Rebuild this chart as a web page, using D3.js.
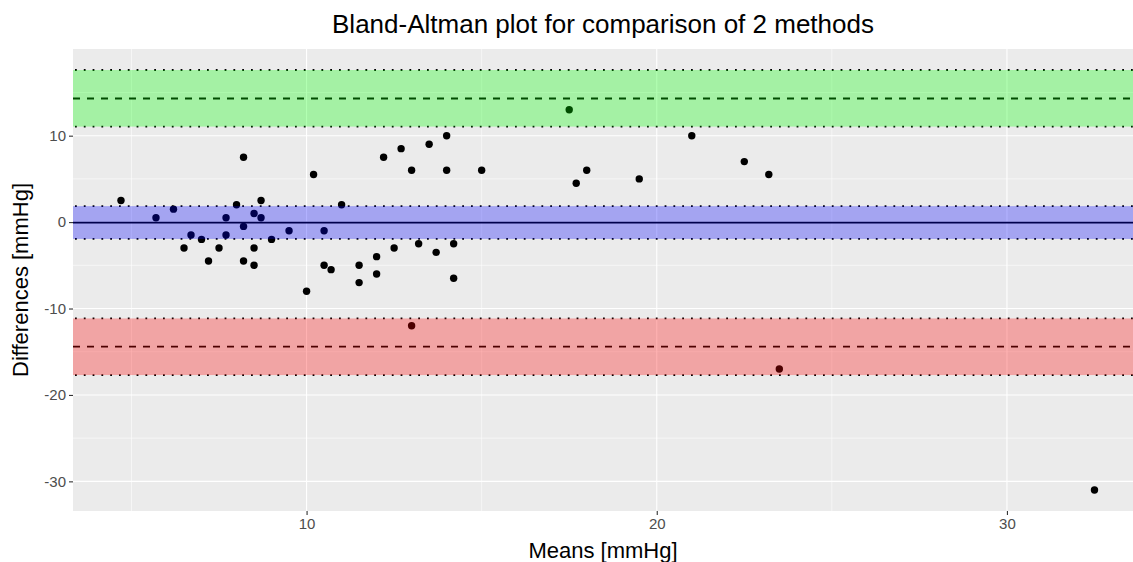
<!DOCTYPE html>
<html>
<head>
<meta charset="utf-8">
<script src="https://cdn.jsdelivr.net/npm/d3@7"></script>
<style>
  body { margin: 0; background: #fff; }
  svg { display: block; font-family: "Liberation Sans", Arial, sans-serif; }
</style>
</head>
<body>
<svg id="chart" width="1133" height="562"></svg>
<script>
// means and differences of the 2 methods [mmHg]
var means = [4.7, 5.7, 6.2, 6.5, 6.7, 7.0, 7.2, 7.5, 7.7, 7.7, 8.0, 8.2, 8.2, 8.2, 8.5, 8.5, 8.5, 8.7, 8.7,
             9.0, 9.5, 10.0, 10.2, 10.5, 10.5, 10.7, 11.0, 11.5, 11.5, 12.0, 12.0, 12.2, 12.5, 12.7, 13.0,
             13.0, 13.2, 13.5, 13.7, 14.0, 14.0, 14.2, 14.2, 15.0, 17.5, 17.7, 18.0, 19.5, 21.0, 22.5,
             23.2, 23.5, 32.5];
var diffs = [2.5, 0.5, 1.5, -3.0, -1.5, -2.0, -4.5, -3.0, 0.5, -1.5, 2.0, 7.5, -0.5, -4.5, 1.0, -3.0, -5.0, 2.5, 0.5,
             -2.0, -1.0, -8.0, 5.5, -1.0, -5.0, -5.5, 2.0, -5.0, -7.0, -4.0, -6.0, 7.5, -3.0, 8.5, 6.0,
             -12.0, -2.5, 9.0, -3.5, 10.0, 6.0, -2.5, -6.5, 6.0, 13.0, 4.5, 6.0, 5.0, 10.0, 7.0,
             5.5, -17.0, -31.0];

// bias, limits of agreement and their confidence intervals
var lineNames = ["upper", "bias", "lower"];
var lineValues = [14.3, -0.05, -14.4];
var ciLow = [11.05, -1.95, -17.7];
var ciHigh = [17.6, 1.85, -11.15];
var bandColors = ["#00ff00", "#0000ff", "#ff0000"];

var xTicks = [10, 20, 30];
var yTicks = [10, 0, -10, -20, -30];
var xMinor = [5, 15, 25];
var yMinor = [15, 5, -5, -15, -25];

var svg = d3.select("#chart");
var margin = {left: 73, right: 0, top: 49, bottom: 51};
var width = +svg.attr("width"), height = +svg.attr("height");

var x = d3.scaleLinear().domain([3.33, 33.6]).range([margin.left, width - margin.right]);
var y = d3.scaleLinear().domain([-33.43, 20.03]).range([height - margin.bottom, margin.top]);

// panel
svg.append("rect")
    .attr("x", x.range()[0]).attr("y", y.range()[1])
    .attr("width", x.range()[1] - x.range()[0])
    .attr("height", y.range()[0] - y.range()[1])
    .attr("fill", "#ebebeb");

var grid = svg.append("g");
grid.selectAll(".xminor").data(xMinor).enter().append("line")
    .attr("x1", d => x(d)).attr("x2", d => x(d))
    .attr("y1", y.range()[0]).attr("y2", y.range()[1])
    .attr("stroke", "#fff").attr("stroke-width", 0.55);
grid.selectAll(".yminor").data(yMinor).enter().append("line")
    .attr("y1", d => y(d)).attr("y2", d => y(d))
    .attr("x1", x.range()[0]).attr("x2", x.range()[1])
    .attr("stroke", "#fff").attr("stroke-width", 0.55);
grid.selectAll(".xmajor").data(xTicks).enter().append("line")
    .attr("x1", d => x(d)).attr("x2", d => x(d))
    .attr("y1", y.range()[0]).attr("y2", y.range()[1])
    .attr("stroke", "#fff").attr("stroke-width", 1.1);
grid.selectAll(".ymajor").data(yTicks).enter().append("line")
    .attr("y1", d => y(d)).attr("y2", d => y(d))
    .attr("x1", x.range()[0]).attr("x2", x.range()[1])
    .attr("stroke", "#fff").attr("stroke-width", 1.1);

// points
svg.append("g").selectAll("circle")
    .data(means.map(function (m, i) { return {m: m, d: diffs[i]}; }))
    .enter().append("circle")
    .attr("cx", d => x(d.m))
    .attr("cy", d => y(d.d))
    .attr("r", 3.7)
    .attr("fill", "#000");

// reference lines
var lines = svg.append("g");
lineNames.forEach(function (name, i) {
    lines.append("line")
        .attr("x1", x.range()[0]).attr("x2", x.range()[1])
        .attr("y1", y(lineValues[i])).attr("y2", y(lineValues[i]))
        .attr("stroke", "#000").attr("stroke-width", 1.8)
        .attr("stroke-dasharray", name == "bias" ? null : "7,7");
    [ciLow[i], ciHigh[i]].forEach(function (v) {
        lines.append("line")
            .attr("x1", x.range()[0] + 2).attr("x2", x.range()[1])
            .attr("y1", y(v)).attr("y2", y(v))
            .attr("stroke", "#000").attr("stroke-width", 1.8)
            .attr("stroke-dasharray", "1.8,7");
    });
});

// shaded confidence bands drawn over everything
svg.append("g").selectAll("rect")
    .data(lineNames).enter().append("rect")
    .attr("x", x.range()[0])
    .attr("width", x.range()[1] - x.range()[0])
    .attr("y", (d, i) => y(ciHigh[i]))
    .attr("height", (d, i) => y(ciLow[i]) - y(ciHigh[i]))
    .attr("fill", (d, i) => bandColors[i])
    .attr("fill-opacity", 0.3);

// axes
var xAxis = svg.append("g")
    .attr("transform", "translate(0," + y.range()[0] + ")")
    .call(d3.axisBottom(x).tickValues(xTicks).tickFormat(d => String(d)).tickSize(4).tickPadding(3));
var yAxis = svg.append("g")
    .attr("transform", "translate(" + x.range()[0] + ",0)")
    .call(d3.axisLeft(y).tickValues(yTicks).tickFormat(d => String(d)).tickSize(4).tickPadding(3));
[xAxis, yAxis].forEach(function (a) {
    a.select(".domain").remove();
    a.selectAll(".tick line").attr("stroke", "#333").attr("stroke-width", 1.1);
    a.selectAll(".tick text").attr("fill", "#4d4d4d").style("font-size", "15px")
        .style("font-family", "'Liberation Sans', Arial, sans-serif");
});

// titles
svg.append("text")
    .attr("x", (x.range()[0] + x.range()[1]) / 2).attr("y", 33)
    .attr("text-anchor", "middle")
    .style("font-size", "26px")
    .text("Bland-Altman plot for comparison of 2 methods");
svg.append("text")
    .attr("x", (x.range()[0] + x.range()[1]) / 2).attr("y", 558)
    .attr("text-anchor", "middle")
    .style("font-size", "22px")
    .text("Means [mmHg]");
svg.append("text")
    .attr("transform", "translate(28," + (y.range()[0] + y.range()[1]) / 2 + ") rotate(-90)")
    .attr("text-anchor", "middle")
    .style("font-size", "22px")
    .text("Differences [mmHg]");
</script>
</body>
</html>
